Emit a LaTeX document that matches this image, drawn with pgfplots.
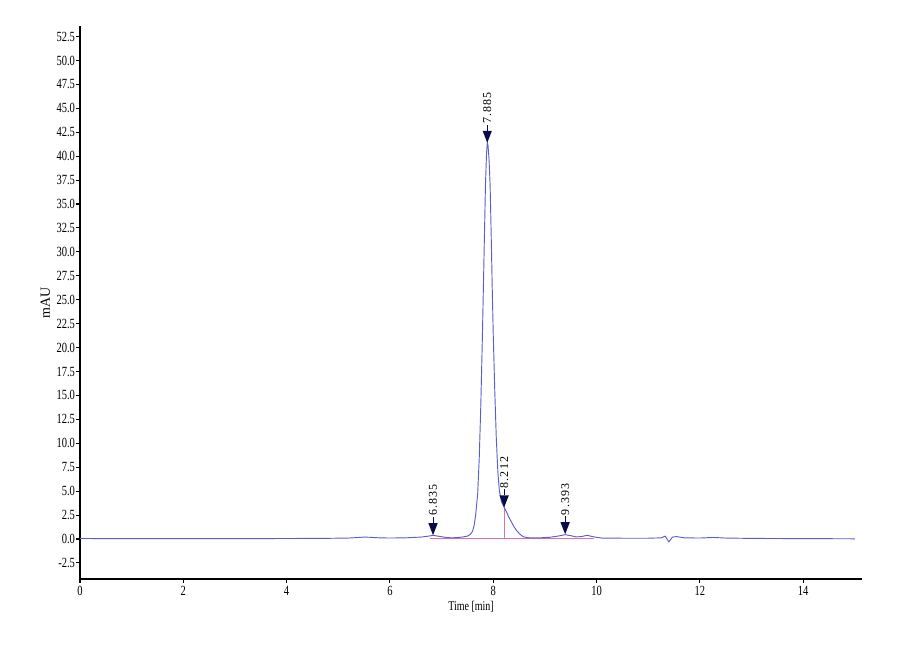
\documentclass[border=0pt]{standalone}
\usepackage{fontspec}
\setmainfont{Liberation Serif}[FakeStretch=0.75]
\newfontfamily\peakfont{Liberation Serif}[LetterSpace=9]
\newfontfamily\plainserif{Liberation Serif}
\usepackage{pgfplots}
\pgfplotsset{compat=1.18}

\definecolor{trace}{RGB}{92,92,210}
\definecolor{base}{RGB}{228,110,170}
\definecolor{pkmark}{RGB}{10,10,70}

% downward arrow head with a short stem, tip at the data point
\pgfdeclareplotmark{peakarrow}{%
  \pgfpathmoveto{\pgfpoint{0pt}{0pt}}%
  \pgfpathlineto{\pgfpoint{-3.5pt}{9pt}}%
  \pgfpathlineto{\pgfpoint{3.5pt}{9pt}}%
  \pgfpathclose
  \pgfusepathqfill
  \pgfsetlinewidth{0.8pt}%
  \pgfpathmoveto{\pgfpoint{0pt}{9pt}}%
  \pgfpathlineto{\pgfpoint{0pt}{13.5pt}}%
  \pgfusepathqstroke
}

\begin{document}
\begin{tikzpicture}
\useasboundingbox (0,0) rectangle (675pt,495pt);
\begin{axis}[
  at={(60pt,60.75pt)}, anchor=south west,
  scale only axis,
  width=586.5pt, height=414.75pt,
  axis lines=left,
  axis line style={-, line width=1.2pt, black},
  xmin=0, xmax=15.14,
  ymin=-4.18, ymax=53.6,
  xtick={0,2,...,14},
  ytick={-2.5,0,2.5,...,52.5},
  yticklabel style={inner sep=0.6pt, /pgf/number format/fixed, /pgf/number format/fixed zerofill, /pgf/number format/precision=1},
  /pgf/number format/assume math mode=true,
  tick align=outside,
  major tick length=3pt,
  every tick/.style={black, line width=0.8pt},
  tick label style={font=\fontsize{10.5}{12}\selectfont},
  xticklabel style={inner sep=1pt, yshift=-1.5pt},
  xlabel={Time [min]},
  ylabel={mAU},
  label style={font=\fontsize{10.5}{12}\selectfont},
  every axis x label/.style={at={(axis description cs:0.5,0)}, anchor=center, yshift=-21pt},
  every axis y label/.style={at={(axis description cs:0,0.5)}, anchor=center, rotate=90, yshift=26pt, font=\plainserif\fontsize{10.5}{12}\selectfont},
  clip=false,
]
% integration baseline and drop line
\addplot[base, line width=0.6pt] coordinates {(6.78,0.05) (9.95,0.05)};
\addplot[base, line width=0.6pt] coordinates {(8.212,0.05) (8.212,3.3)};

% detector trace
\addplot[trace, line width=0.7pt] coordinates {
(0.0,0.05) (1.0,0.04) (2.0,0.03) (3.0,0.04) (4.0,0.05) (4.8,0.07)
(5.2,0.1) (5.4,0.16) (5.5,0.2) (5.6,0.18) (5.8,0.12) (6.0,0.1)
(6.3,0.12) (6.6,0.2) (6.75,0.3) (6.835,0.38) (6.95,0.28) (7.1,0.15)
(7.2,0.12) (7.3,0.15) (7.4,0.2) (7.5,0.3) (7.55,0.45) (7.6,0.8)
(7.63,1.4) (7.66,2.5) (7.7,4.8) (7.73,8.5) (7.76,14) (7.79,21)
(7.82,29) (7.85,37) (7.87,40.2) (7.885,41.4) (7.9,41.1) (7.92,39.6)
(7.94,37) (7.96,32) (7.98,26.5) (8.0,21.5) (8.03,15.5) (8.06,10.5)
(8.09,7) (8.12,5.0) (8.16,3.9) (8.212,3.3) (8.26,2.8) (8.3,2.3)
(8.35,1.8) (8.4,1.3) (8.45,0.9) (8.5,0.6) (8.55,0.35) (8.6,0.2)
(8.7,0.12) (8.9,0.12) (9.1,0.18) (9.25,0.3) (9.393,0.45) (9.5,0.35)
(9.6,0.22) (9.7,0.25) (9.82,0.38) (9.95,0.22) (10.1,0.1) (10.5,0.08)
(11.0,0.08) (11.25,0.12) (11.33,0.3) (11.4,-0.3) (11.47,0.2) (11.55,0.25)
(11.7,0.12) (12.0,0.1) (12.26,0.16) (12.5,0.1) (13.0,0.06) (14.0,0.04)
(15.0,0.02)
};

% peak markers with retention times
\addplot[
  only marks, mark=peakarrow, pkmark,
  point meta=explicit symbolic,
  nodes near coords,
  every node near coord/.style={
    font=\peakfont\fontsize{9}{10}\selectfont, text=black,
    yshift=13.5pt, rotate=90, anchor=west, inner sep=0.5pt},
] coordinates {
(6.835,0.4)[6.835]
(7.885,41.4)[7.885]
(8.212,3.3)[8.212]
(9.393,0.5)[9.393]
};
\end{axis}
\end{tikzpicture}
\end{document}
